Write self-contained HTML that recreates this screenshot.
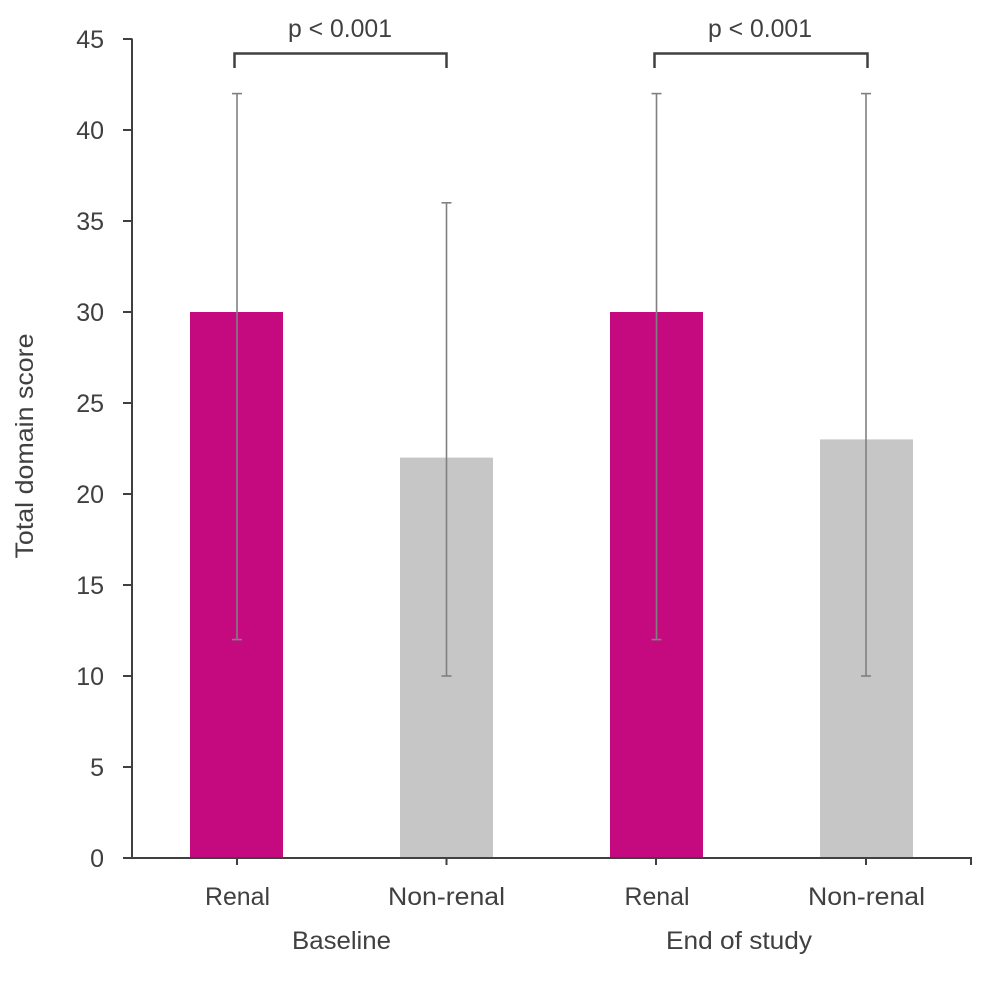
<!DOCTYPE html>
<html>
<head>
<meta charset="utf-8">
<style>
  html,body{margin:0;padding:0;background:#fff;}
  svg{display:block;}
  text{font-family:"Liberation Sans", sans-serif; fill:#404040;}
</style>
</head>
<body>
<svg width="1000" height="989" viewBox="0 0 1000 989" xmlns="http://www.w3.org/2000/svg">
  <rect width="1000" height="989" fill="#fff"/>

  <!-- bars -->
  <rect x="190" y="312" width="93" height="546" fill="#C50A7F"/>
  <rect x="400" y="457.6" width="93" height="400.4" fill="#C6C6C6"/>
  <rect x="610" y="312" width="93" height="546" fill="#C50A7F"/>
  <rect x="820" y="439.4" width="93" height="418.6" fill="#C6C6C6"/>

  <!-- error bars -->
  <g stroke="#808080" stroke-width="1.6" fill="none">
    <line x1="237" y1="93.6" x2="237" y2="639.6"/>
    <line x1="232" y1="93.6" x2="242" y2="93.6"/>
    <line x1="232" y1="639.6" x2="242" y2="639.6"/>

    <line x1="446.5" y1="202.8" x2="446.5" y2="676"/>
    <line x1="441.5" y1="202.8" x2="451.5" y2="202.8"/>
    <line x1="441.5" y1="676" x2="451.5" y2="676"/>

    <line x1="656.5" y1="93.6" x2="656.5" y2="639.6"/>
    <line x1="651.5" y1="93.6" x2="661.5" y2="93.6"/>
    <line x1="651.5" y1="639.6" x2="661.5" y2="639.6"/>

    <line x1="866" y1="93.6" x2="866" y2="676"/>
    <line x1="861" y1="93.6" x2="871" y2="93.6"/>
    <line x1="861" y1="676" x2="871" y2="676"/>
  </g>

  <!-- axes -->
  <g stroke="#404040" stroke-width="2" fill="none">
    <line x1="132" y1="38.5" x2="132" y2="859"/>
    <line x1="131" y1="858" x2="972" y2="858"/>
    <!-- y ticks -->
    <line x1="123" y1="39" x2="132" y2="39"/>
    <line x1="123" y1="130" x2="132" y2="130"/>
    <line x1="123" y1="221" x2="132" y2="221"/>
    <line x1="123" y1="312" x2="132" y2="312"/>
    <line x1="123" y1="403" x2="132" y2="403"/>
    <line x1="123" y1="494" x2="132" y2="494"/>
    <line x1="123" y1="585" x2="132" y2="585"/>
    <line x1="123" y1="676" x2="132" y2="676"/>
    <line x1="123" y1="767" x2="132" y2="767"/>
    <line x1="123" y1="858" x2="132" y2="858"/>
    <!-- x ticks -->
    <line x1="237" y1="858" x2="237" y2="865"/>
    <line x1="446.5" y1="858" x2="446.5" y2="865"/>
    <line x1="656" y1="858" x2="656" y2="865"/>
    <line x1="866" y1="858" x2="866" y2="865"/>
    <line x1="971" y1="858" x2="971" y2="865"/>
  </g>

  <!-- brackets -->
  <g stroke="#404040" stroke-width="2.5" fill="none">
    <path d="M234.5 68 V53.5 H446.5 V68"/>
    <path d="M654.5 68 V53.5 H867.5 V68"/>
  </g>

  <!-- y tick labels -->
  <g font-size="25" text-anchor="end">
    <text x="104" y="48">45</text>
    <text x="104" y="139">40</text>
    <text x="104" y="230">35</text>
    <text x="104" y="321">30</text>
    <text x="104" y="412">25</text>
    <text x="104" y="503">20</text>
    <text x="104" y="594">15</text>
    <text x="104" y="685">10</text>
    <text x="104" y="776">5</text>
    <text x="104" y="867">0</text>
  </g>

  <!-- p values -->
  <text x="340" y="37" font-size="25" text-anchor="middle" textLength="104" lengthAdjust="spacingAndGlyphs">p &lt; 0.001</text>
  <text x="760" y="37" font-size="25" text-anchor="middle" textLength="104" lengthAdjust="spacingAndGlyphs">p &lt; 0.001</text>

  <!-- category labels -->
  <g font-size="25" text-anchor="middle">
    <text x="237.5" y="905" textLength="65" lengthAdjust="spacingAndGlyphs">Renal</text>
    <text x="446.5" y="905" textLength="117" lengthAdjust="spacingAndGlyphs">Non-renal</text>
    <text x="657" y="905" textLength="65" lengthAdjust="spacingAndGlyphs">Renal</text>
    <text x="866.5" y="905" textLength="117" lengthAdjust="spacingAndGlyphs">Non-renal</text>
    <text x="341.5" y="949" textLength="99" lengthAdjust="spacingAndGlyphs">Baseline</text>
    <text x="739" y="949" textLength="146" lengthAdjust="spacingAndGlyphs">End of study</text>
  </g>

  <!-- y axis title -->
  <text transform="translate(33,446) rotate(-90)" font-size="25" text-anchor="middle" textLength="225" lengthAdjust="spacingAndGlyphs">Total domain score</text>
</svg>
</body>
</html>
